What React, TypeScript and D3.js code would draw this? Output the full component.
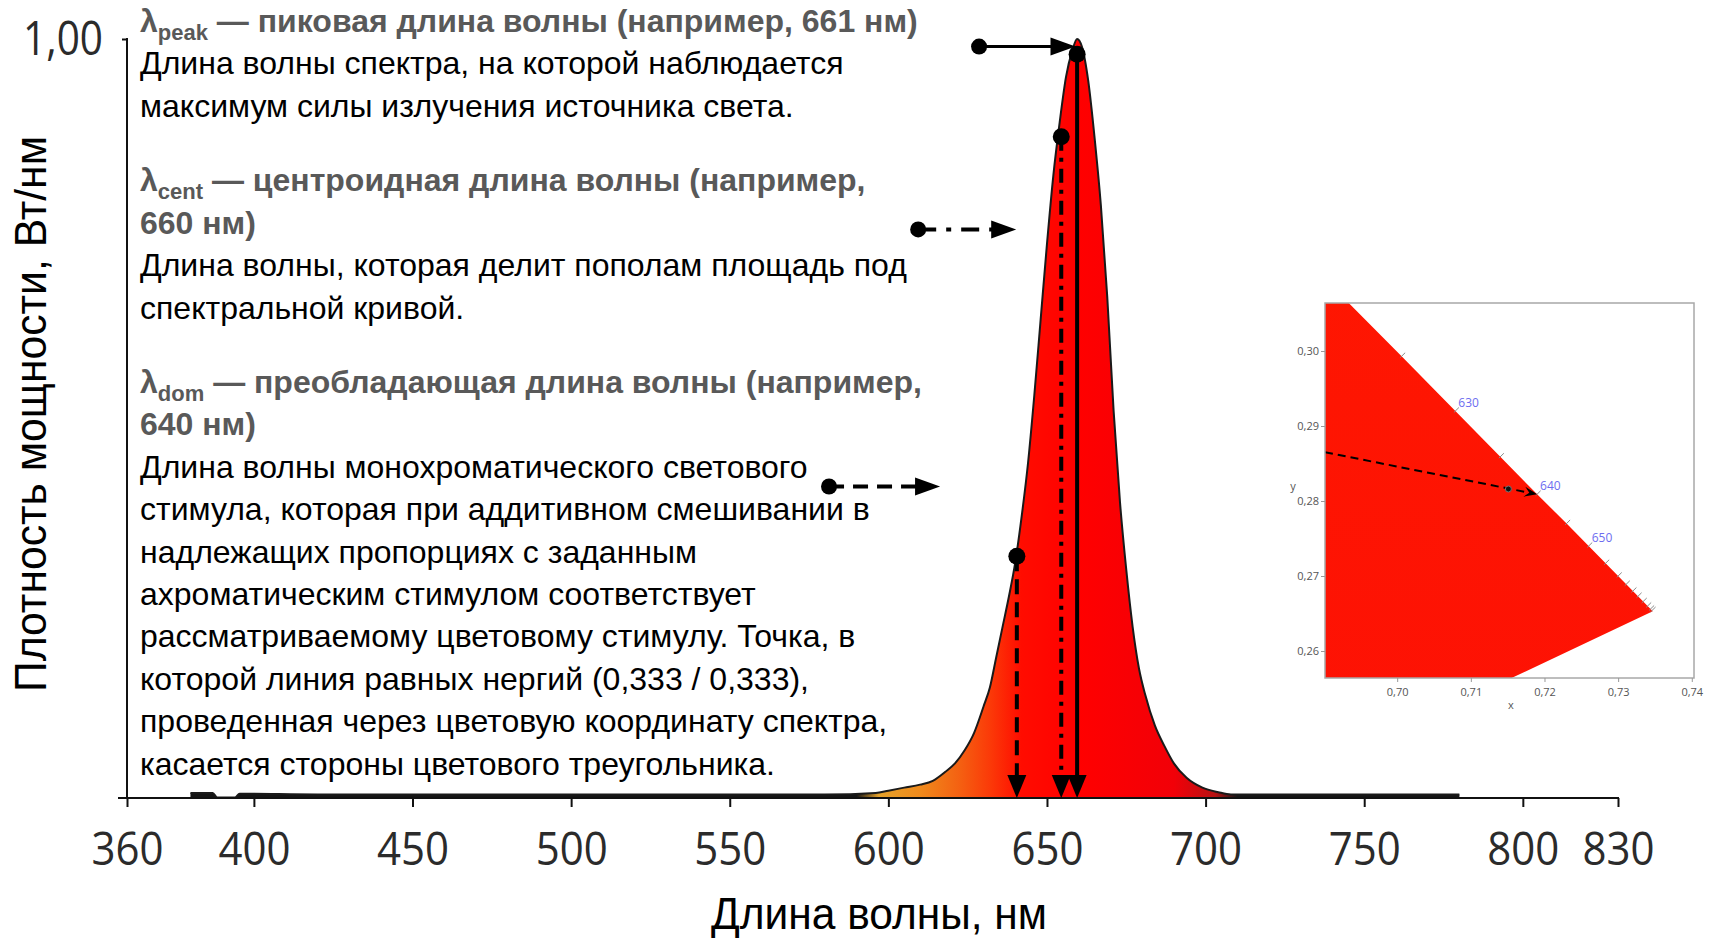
import { useEffect, useRef } from "react";
import * as d3 from "d3";

// relative spectral power
const wavelengths = [
  380, 387, 388.5, 394, 395.5, 420, 460, 500, 540, 580, 596, 600, 605, 610, 614,
  618, 621, 624, 627, 630, 632, 634, 636, 638, 640, 642, 644, 646, 648, 650, 652,
  654, 656, 658, 659.5, 661, 663, 665, 667, 669, 671, 673, 675, 677, 679, 681,
  684, 687, 690, 694, 699, 704, 708, 715, 740, 780,
];
const power = [
  0.006, 0.006, 0, 0, 0.005, 0.004, 0.004, 0.004, 0.004, 0.004, 0.006, 0.009,
  0.013, 0.017, 0.022, 0.034, 0.045, 0.062, 0.085, 0.12, 0.145, 0.185, 0.225,
  0.265, 0.31, 0.37, 0.44, 0.53, 0.63, 0.73, 0.82, 0.89, 0.95, 0.985, 1.0, 0.99,
  0.945, 0.87, 0.78, 0.66, 0.51, 0.39, 0.3, 0.225, 0.17, 0.135, 0.095, 0.068,
  0.045, 0.026, 0.013, 0.007, 0.004, 0.004, 0.004, 0.004,
];

const xTicks = [360, 400, 450, 500, 550, 600, 650, 700, 750, 800, 830];
const yTicks = [1];

// fill colour along the wavelength axis
const gradWl = [590, 597, 610, 622, 632, 642, 660, 690, 703, 710];
const gradColor = [
  "#151515", "#e6a22a", "#ef8a1c", "#f46212", "#fb3a08", "#ff0c00",
  "#ff0000", "#f20008", "#b81212", "#151515",
];

// peak / centroid / dominant markers (nm, value of the dot)
const markWl = [659.5, 654.5, 640.5];
const markDot = [0.98, 0.871, 0.318];
const markDash = ["", "14,7,4,7", "15,8"];
// horizontal pointers (nm from, nm to, value)
const pointFrom = [628.6, 609.4, 581.3];
const pointTo = [659, 640.3, 616.3];
const pointVal = [0.99, 0.749, 0.41];
const pointDash = ["", "18,10,5,10", "15,9"];

const noteGroups = [
  {
    sym: "peak",
    head: ["— пиковая длина волны (например, 661 нм)"],
    body: [
      "Длина волны спектра, на которой наблюдается",
      "максимум силы излучения источника света.",
    ],
  },
  {
    sym: "cent",
    head: ["— центроидная длина волны (например,", "660 нм)"],
    body: [
      "Длина волны, которая делит пополам площадь под",
      "спектральной кривой.",
    ],
  },
  {
    sym: "dom",
    head: ["— преобладающая длина волны (например,", "640 нм)"],
    body: [
      "Длина волны монохроматического светового",
      "стимула, которая при аддитивном смешивании в",
      "надлежащих пропорциях с заданным",
      "ахроматическим стимулом соответствует",
      "рассматриваемому цветовому стимулу. Точка, в",
      "которой линия равных нергий (0,333 / 0,333),",
      "проведенная через цветовую координату спектра,",
      "касается стороны цветового треугольника.",
    ],
  },
];

// CIE 1931 spectral locus (red end)
const locusNm = [610, 615, 620, 625, 630, 635, 640, 645, 650, 655, 660, 665, 670, 675, 680, 685, 690, 695, 700];
const locusX = [0.6658, 0.6801, 0.6915, 0.7006, 0.7079, 0.714, 0.719, 0.723, 0.726, 0.7283, 0.73, 0.7311, 0.732, 0.7327, 0.7334, 0.734, 0.7344, 0.7346, 0.7347];
const locusY = [0.334, 0.3197, 0.3083, 0.2993, 0.292, 0.2859, 0.2809, 0.277, 0.274, 0.2717, 0.27, 0.2689, 0.268, 0.2673, 0.2666, 0.266, 0.2656, 0.2654, 0.2653];
const purpleEnd = [0.1741, 0.005];
const locusLabels = [630, 640, 650];
const insetXTicks = [0.7, 0.71, 0.72, 0.73, 0.74];
const insetYTicks = [0.26, 0.27, 0.28, 0.29, 0.3];
const domLineStart = [0.6902, 0.2865];
const colorPoint = [0.7151, 0.2816];

const tickFont = "'Segoe UI', 'Open Sans', sans-serif";
const textFont = "'Liberation Sans', Arial, sans-serif";

function arrowHead(
  g: d3.Selection<SVGGElement, unknown, null, undefined>,
  tx: number,
  ty: number,
  dir: "down" | "right",
  len: number,
  half: number,
) {
  const p = d3.path();
  if (dir === "down") {
    p.moveTo(tx, ty);
    p.lineTo(tx - half, ty - len);
    p.lineTo(tx + half, ty - len);
  } else {
    p.moveTo(tx, ty);
    p.lineTo(tx - len, ty - half);
    p.lineTo(tx - len, ty + half);
  }
  p.closePath();
  g.append("path").attr("d", p.toString()).attr("fill", "#000");
}

export default function App() {
  const svgRef = useRef<SVGSVGElement | null>(null);

  useEffect(() => {
    if (!svgRef.current) return;
    const svg = d3.select(svgRef.current);
    svg.selectAll("*").remove();

    const x = d3.scaleLinear().domain([360, 830]).range([127, 1618]);
    const y = d3.scaleLinear().domain([0, 1]).range([797.5, 39]);
    const axisY = 798;

    const defs = svg.append("defs");
    const grad = defs
      .append("linearGradient")
      .attr("id", "spec-fill")
      .attr("gradientUnits", "userSpaceOnUse")
      .attr("x1", x(380))
      .attr("x2", x(780))
      .attr("y1", 0)
      .attr("y2", 0);
    gradWl.forEach((w, i) => {
      grad
        .append("stop")
        .attr("offset", (w - 380) / 400)
        .attr("stop-color", gradColor[i]);
    });

    const g = svg.append("g");

    // spectrum
    const area = d3
      .area<number>()
      .x((_d, i) => x(wavelengths[i]))
      .y0(y(0))
      .y1((d) => y(d))
      .curve(d3.curveMonotoneX);
    const line = d3
      .line<number>()
      .x((_d, i) => x(wavelengths[i]))
      .y((d) => y(d))
      .curve(d3.curveMonotoneX);
    g.append("path").attr("d", area(power)).attr("fill", "url(#spec-fill)");
    g.append("path")
      .attr("d", line(power))
      .attr("fill", "none")
      .attr("stroke", "#1a1a1a")
      .attr("stroke-width", 2);

    // x axis
    const gx = g
      .append("g")
      .attr("transform", `translate(0,${axisY})`)
      .call(
        d3
          .axisBottom(x)
          .tickValues(xTicks)
          .tickSize(9)
          .tickSizeOuter(0)
          .tickFormat(d3.format("d")),
      );
    gx.select(".domain").remove();
    gx.selectAll(".tick line").attr("stroke", "#111").attr("stroke-width", 2);
    gx.selectAll(".tick text")
      .attr("y", 67)
      .attr("dy", 0)
      .attr("fill", "#2b2b2b")
      .attr("font-size", 46)
      .attr("font-family", tickFont)
      .attr("textLength", 72)
      .attr("lengthAdjust", "spacingAndGlyphs");
    g.append("line")
      .attr("x1", x(360) - 9)
      .attr("x2", x(830) + 1)
      .attr("y1", axisY)
      .attr("y2", axisY)
      .attr("stroke", "#111")
      .attr("stroke-width", 2);

    // y axis
    const gy = g
      .append("g")
      .attr("transform", `translate(${x(360)},0)`)
      .call(
        d3
          .axisLeft(y)
          .tickValues(yTicks)
          .tickSize(5)
          .tickFormat((d) => d3.format(".2f")(d as number).replace(".", ",")),
      );
    gy.select(".domain").remove();
    gy.selectAll(".tick line").attr("stroke", "#111").attr("stroke-width", 2);
    gy.selectAll(".tick text")
      .attr("x", -24)
      .attr("dy", 15)
      .attr("fill", "#2b2b2b")
      .attr("font-size", 48)
      .attr("font-family", tickFont)
      .attr("textLength", 80)
      .attr("lengthAdjust", "spacingAndGlyphs");
    g.append("line")
      .attr("x1", x(360))
      .attr("x2", x(360))
      .attr("y1", y(1) - 1)
      .attr("y2", axisY)
      .attr("stroke", "#111")
      .attr("stroke-width", 2);

    // axis titles
    g.append("text")
      .attr("x", 879)
      .attr("y", 929)
      .attr("text-anchor", "middle")
      .attr("font-family", textFont)
      .attr("font-size", 45)
      .attr("textLength", 336)
      .attr("lengthAdjust", "spacingAndGlyphs")
      .attr("fill", "#000")
      .text("Длина волны, нм");
    g.append("text")
      .attr("transform", "translate(46,414) rotate(-90)")
      .attr("text-anchor", "middle")
      .attr("font-family", textFont)
      .attr("font-size", 45)
      .attr("textLength", 556)
      .attr("lengthAdjust", "spacingAndGlyphs")
      .attr("fill", "#000")
      .text("Плотность мощности, Вт/нм");

    // vertical markers
    const ann = g.append("g");
    markWl.forEach((w, i) => {
      const mx = x(w);
      ann
        .append("line")
        .attr("x1", mx)
        .attr("x2", mx)
        .attr("y1", y(markDot[i]))
        .attr("y2", axisY - 20)
        .attr("stroke", "#000")
        .attr("stroke-width", 4)
        .attr("stroke-dasharray", markDash[i] || null);
      arrowHead(ann, mx, axisY, "down", 23, 9.5);
      ann
        .append("circle")
        .attr("cx", mx)
        .attr("cy", y(markDot[i]))
        .attr("r", 8.5)
        .attr("fill", "#000");
    });

    // horizontal pointers
    pointFrom.forEach((w, i) => {
      const x0 = x(w);
      const x1 = x(pointTo[i]);
      const py = y(pointVal[i]);
      ann
        .append("line")
        .attr("x1", x0)
        .attr("x2", x1 - 22)
        .attr("y1", py)
        .attr("y2", py)
        .attr("stroke", "#000")
        .attr("stroke-width", i === 0 ? 3 : 4)
        .attr("stroke-dasharray", pointDash[i] || null);
      arrowHead(ann, x1, py, "right", 25, 9);
      ann
        .append("circle")
        .attr("cx", x0)
        .attr("cy", py)
        .attr("r", 8)
        .attr("fill", "#000");
    });

    // text block
    const notes = g.append("g").attr("font-family", textFont).attr("font-size", 32);
    const lineStep = 42.4;
    let ly = 32;
    noteGroups.forEach((grp, gi) => {
      if (gi > 0) ly += 74.5 - lineStep;
      grp.head.forEach((h, hi) => {
        const t = notes
          .append("text")
          .attr("x", 140)
          .attr("y", ly)
          .attr("fill", "#595959")
          .attr("font-weight", "bold");
        if (hi === 0) {
          t.append("tspan").text("λ");
          t.append("tspan").attr("font-size", 22).attr("dy", 8).text(grp.sym);
          t.append("tspan").attr("dy", -8).text(" " + h);
        } else {
          t.text(h);
        }
        ly += lineStep;
      });
      grp.body.forEach((b) => {
        notes.append("text").attr("x", 140).attr("y", ly).attr("fill", "#000").text(b);
        ly += lineStep;
      });
    });

    // inset: chromaticity diagram fragment
    const ix = d3.scaleLinear().domain([0.6902, 0.7403]).range([1325, 1694]);
    const iy = d3.scaleLinear().domain([0.2564, 0.3064]).range([678, 303]);
    const inset = svg.append("g");
    defs
      .append("clipPath")
      .attr("id", "inset-clip")
      .append("rect")
      .attr("x", ix.range()[0])
      .attr("y", iy.range()[1])
      .attr("width", ix.range()[1] - ix.range()[0])
      .attr("height", iy.range()[0] - iy.range()[1]);
    const redGrad = defs
      .append("linearGradient")
      .attr("id", "inset-red")
      .attr("x1", 0)
      .attr("x2", 0)
      .attr("y1", 0)
      .attr("y2", 1);
    redGrad.append("stop").attr("offset", 0).attr("stop-color", "#ff1800");
    redGrad.append("stop").attr("offset", 1).attr("stop-color", "#f80010");

    inset
      .append("rect")
      .attr("x", ix.range()[0])
      .attr("y", iy.range()[1])
      .attr("width", ix.range()[1] - ix.range()[0])
      .attr("height", iy.range()[0] - iy.range()[1])
      .attr("fill", "#fff");

    const pts: [number, number][] = locusX.map((lx, i) => [lx, locusY[i]]);
    const poly: [number, number][] = [
      ...pts,
      [purpleEnd[0], purpleEnd[1]],
      [purpleEnd[0], locusY[0]],
    ];
    const clipped = inset.append("g").attr("clip-path", "url(#inset-clip)");
    clipped
      .append("path")
      .attr(
        "d",
        d3
          .line<[number, number]>()
          .x((d) => ix(d[0]))
          .y((d) => iy(d[1]))(poly) + "Z",
      )
      .attr("fill", "url(#inset-red)");

    // wavelength ticks along the locus
    locusNm.forEach((nm, i) => {
      if (nm < 625 || i === locusNm.length - 1) return;
      const a = pts[i - 1];
      const b = pts[i + 1];
      const dx = ix(b[0]) - ix(a[0]);
      const dy = iy(b[1]) - iy(a[1]);
      const len = Math.hypot(dx, dy);
      let nx = dy / len;
      let ny = -dx / len;
      if (nx < 0) {
        nx = -nx;
        ny = -ny;
      }
      const px = ix(pts[i][0]);
      const py = iy(pts[i][1]);
      clipped
        .append("line")
        .attr("x1", px - nx * 2)
        .attr("y1", py - ny * 2)
        .attr("x2", px + nx * 5)
        .attr("y2", py + ny * 5)
        .attr("stroke", "#8a8a8a")
        .attr("stroke-width", 1);
    });
    locusLabels.forEach((nm) => {
      const i = locusNm.indexOf(nm);
      inset
        .append("text")
        .attr("x", ix(locusX[i]) + 3)
        .attr("y", iy(locusY[i]) - 4)
        .attr("font-family", "'Segoe UI', 'Open Sans', sans-serif")
        .attr("font-size", 12)
        .attr("fill", "#6d6df0")
        .text(nm);
    });

    // dominant wavelength construction
    const sx = ix(domLineStart[0]);
    const sy = iy(domLineStart[1]);
    const i640 = locusNm.indexOf(640);
    const ex = ix(locusX[i640]);
    const ey = iy(locusY[i640]);
    const ang = Math.atan2(ey - sy, ex - sx);
    clipped
      .append("line")
      .attr("x1", sx)
      .attr("y1", sy)
      .attr("x2", ex - 9 * Math.cos(ang))
      .attr("y2", ey - 9 * Math.sin(ang))
      .attr("stroke", "#000")
      .attr("stroke-width", 2)
      .attr("stroke-dasharray", "8,5");
    const ah = d3.path();
    ah.moveTo(ex, ey);
    ah.lineTo(ex - 13 * Math.cos(ang) + 5 * Math.sin(ang), ey - 13 * Math.sin(ang) - 5 * Math.cos(ang));
    ah.lineTo(ex - 8 * Math.cos(ang), ey - 8 * Math.sin(ang));
    ah.lineTo(ex - 13 * Math.cos(ang) - 5 * Math.sin(ang), ey - 13 * Math.sin(ang) + 5 * Math.cos(ang));
    ah.closePath();
    inset.append("path").attr("d", ah.toString()).attr("fill", "#000");
    inset
      .append("circle")
      .attr("cx", ix(colorPoint[0]))
      .attr("cy", iy(colorPoint[1]))
      .attr("r", 3)
      .attr("fill", "#111")
      .attr("stroke", "#777")
      .attr("stroke-width", 1);

    // inset frame and axes
    inset
      .append("rect")
      .attr("x", ix.range()[0])
      .attr("y", iy.range()[1])
      .attr("width", ix.range()[1] - ix.range()[0])
      .attr("height", iy.range()[0] - iy.range()[1])
      .attr("fill", "none")
      .attr("stroke", "#a8a8a8")
      .attr("stroke-width", 1.5);
    const fmt = (d: d3.NumberValue) => d3.format(".2f")(d as number).replace(".", ",");
    const ixa = inset
      .append("g")
      .attr("transform", `translate(0,${iy.range()[0]})`)
      .call(d3.axisBottom(ix).tickValues(insetXTicks).tickSize(4).tickPadding(6).tickFormat(fmt));
    const iya = inset
      .append("g")
      .attr("transform", `translate(${ix.range()[0]},0)`)
      .call(d3.axisLeft(iy).tickValues(insetYTicks).tickSize(4).tickPadding(2).tickFormat(fmt));
    [ixa, iya].forEach((a) => {
      a.select(".domain").remove();
      a.selectAll(".tick line").attr("stroke", "#999");
      a.selectAll(".tick text")
        .attr("fill", "#555")
        .attr("font-size", 11)
        .attr("font-family", "'Segoe UI', 'Open Sans', sans-serif");
    });
    inset
      .append("text")
      .attr("x", 1511)
      .attr("y", 709)
      .attr("text-anchor", "middle")
      .attr("font-size", 11)
      .attr("font-family", "'Open Sans', sans-serif")
      .attr("fill", "#555")
      .text("x");
    inset
      .append("text")
      .attr("x", 1293)
      .attr("y", 490)
      .attr("text-anchor", "middle")
      .attr("font-size", 11)
      .attr("font-family", "'Open Sans', sans-serif")
      .attr("fill", "#555")
      .text("y");
  }, []);

  return (
    <svg
      ref={svgRef}
      width={1710}
      height={941}
      style={{ position: "absolute", left: 0, top: 0, background: "#fff" }}
    />
  );
}
